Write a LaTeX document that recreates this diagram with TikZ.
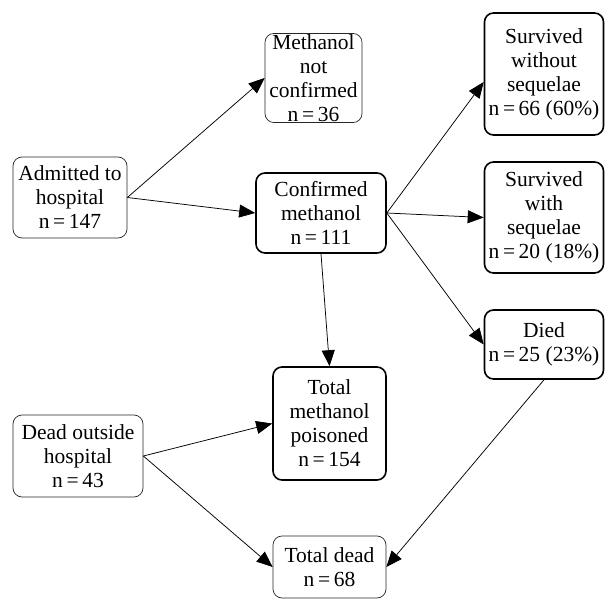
\documentclass[tikz,border=0pt]{standalone}
\usepackage{fontspec}
\setmainfont{Liberation Serif}
\usetikzlibrary{arrows.meta}

\tikzset{
  thinbox/.style={draw=black!85, line width=0.7pt, rounded corners=9pt, align=center, inner sep=1pt, font=\fontsize{21.5}{24}\selectfont},
  thickbox/.style={thinbox, draw=black, line width=1.6pt},
  flow/.style={line width=0.75pt, -{Triangle[length=16pt,width=13pt]}}
}

\begin{document}
\begin{tikzpicture}[x=1pt,y=-1pt]

\useasboundingbox (0,0) rectangle (605,599);

% left column
\node[thinbox, minimum width=114pt, minimum height=81pt] (adm) at (70,197.5) {Admitted to\\hospital\\n\,=\,147};
\node[thinbox, minimum width=130pt, minimum height=82pt] (dead) at (78,456) {Dead outside\\hospital\\n\,=\,43};

% middle column
\node[thinbox, minimum width=97pt, minimum height=80pt] (notc) at (313.5,78) {Methanol\\not\\confirmed\\n\,=\,36};
\node[thickbox, minimum width=130pt, minimum height=80pt] (conf) at (321,213) {Confirmed\\methanol\\n\,=\,111};
\node[thickbox, minimum width=113pt, minimum height=113pt] (pois) at (329.5,423.5) {Total\\methanol\\poisoned\\n\,=\,154};
\node[thinbox, minimum width=113pt, minimum height=62pt] (tdead) at (329.5,567) {Total dead\\n\,=\,68};

% right column
\node[thickbox, minimum width=119pt, minimum height=122pt] (swo) at (544,74) {Survived\\without\\sequelae\\n\,=\,66 (60\%)};
\node[thickbox, minimum width=119pt, minimum height=111pt] (swi) at (544,217.5) {Survived\\with\\sequelae\\n\,=\,20 (18\%)};
\node[thickbox, minimum width=119pt, minimum height=69pt] (died) at (544,344.5) {Died\\n\,=\,25 (23\%)};

% arrows
\draw[flow] (adm.east) -- (notc.west);
\draw[flow] (adm.east) -- (conf.west);
\draw[flow] (conf.east) -- ([yshift=-8pt]swo.west);
\draw[flow] (conf.east) -- (swi.west);
\draw[flow] (conf.east) -- (died.west);
\draw[flow] (conf.south) -- (pois.north);
\draw[flow] (dead.east) -- (pois.west);
\draw[flow] (dead.east) -- (tdead.west);
\draw[flow] (died.south) -- (tdead.east);

\end{tikzpicture}
\end{document}
